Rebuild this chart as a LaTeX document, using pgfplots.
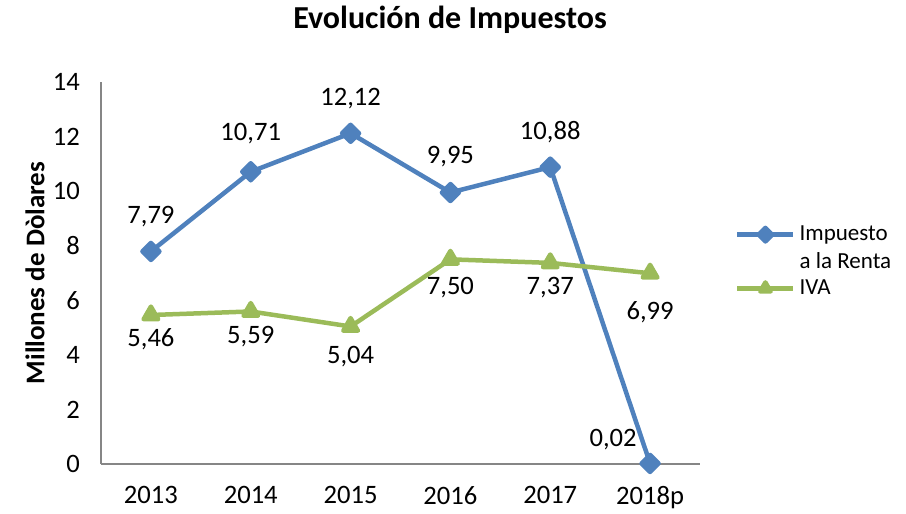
\documentclass[border=0pt]{standalone}
\usepackage{fontspec}
\setmainfont{Carlito}
\usepackage{pgfplots}
\pgfplotsset{compat=1.18}
\usepackage{pgfplotstable}

\definecolor{ser1}{HTML}{4F81BD}
\definecolor{ser2}{HTML}{9BBB59}
\definecolor{axgray}{HTML}{868686}

% label offsets in pt (dx, dy) relative to the point
\pgfplotstableread{
x y lab dx dy
0 7.79 7,79 0 17.5
1 10.71 10,71 0 19
2 12.12 12,12 0 17.5
3 9.95 9,95 0 18
4 10.88 10,88 0 17.5
5 0.02 0,02 -18.5 12
}\renta

\pgfplotstableread{
x y lab dx dy
0 5.46 5,46 0 -12
1 5.59 5,59 0 -12.5
2 5.04 5,04 0 -15
3 7.50 7,50 0 -14
4 7.37 7,37 0 -12.5
5 6.99 6,99 0 -19.5
}\iva

\pgfplotsset{
  lbl/.style={
    nodes near coords,
    point meta=explicit symbolic,
    nodes near coords align={anchor=center},
    visualization depends on={\thisrow{dx} \as \dx},
    visualization depends on={\thisrow{dy} \as \dy},
    every node near coord/.append style={xshift=\dx pt, yshift=\dy pt, text=black,
      font=\fontsize{13.3}{15}\selectfont},
  },
}

\begin{document}
\begin{tikzpicture}
\useasboundingbox (-50.5pt,-25pt) rectangle (402.5pt,232pt);
\begin{axis}[
  at={(0,0)}, anchor=south west,
  scale only axis, width=299.5pt, height=191pt,
  xmin=-0.5, xmax=5.5, ymin=0, ymax=14,
  xtick={0,...,5}, xticklabels={2013,2014,2015,2016,2017,2018p},
  ytick={0,2,...,14},
  axis x line=bottom, axis y line=left,
  axis line style={-, axgray, line width=0.75pt},
  major tick length=0pt,
  clip=false,
  /pgf/number format/assume math mode=true,
  tick label style={font=\fontsize{13.3}{15}\selectfont, black},
  yticklabel style={xshift=-7pt},
  xticklabel style={yshift=-7.5pt},
  legend style={draw=none, fill=none, at={(rel axis cs:1.048,0.53)}, anchor=west,
    font=\fontsize{11.5}{14}\selectfont, cells={align=left}},
  legend cell align=left,
  legend image code/.code={\draw[mark repeat=2,mark phase=2, mark size=3pt]
    plot coordinates {(0pt,0pt)(14pt,0pt)(28pt,0pt)};},
]
\addplot[ser1, line width=2.25pt, line join=round, mark=square*, mark size=3pt,
  mark options={rotate=45, solid, fill=ser1}, lbl,
  legend image code/.code={\draw[mark repeat=2,mark phase=2, mark size=2.4pt]
    plot coordinates {(0pt,7pt)(14pt,7pt)(28pt,7pt)};}]
  table[x=x, y=y, meta=lab]{\renta};
\addlegendentry{Impuesto\\a la Renta}
\addplot[ser2, line width=2.25pt, line join=round, mark=triangle*, mark size=4.2pt,
  mark options={solid, fill=ser2}, lbl]
  table[x=x, y=y, meta=lab]{\iva};
\addlegendentry{IVA}
\end{axis}
\node[font=\bfseries\fontsize{16}{19}\selectfont] at (174.5pt,222pt) {Evolución de Impuestos};
\node[rotate=90, font=\bfseries\fontsize{13.5}{16}\selectfont] at (-33pt,95.5pt) {Millones de Dòlares};
\end{tikzpicture}
\end{document}
